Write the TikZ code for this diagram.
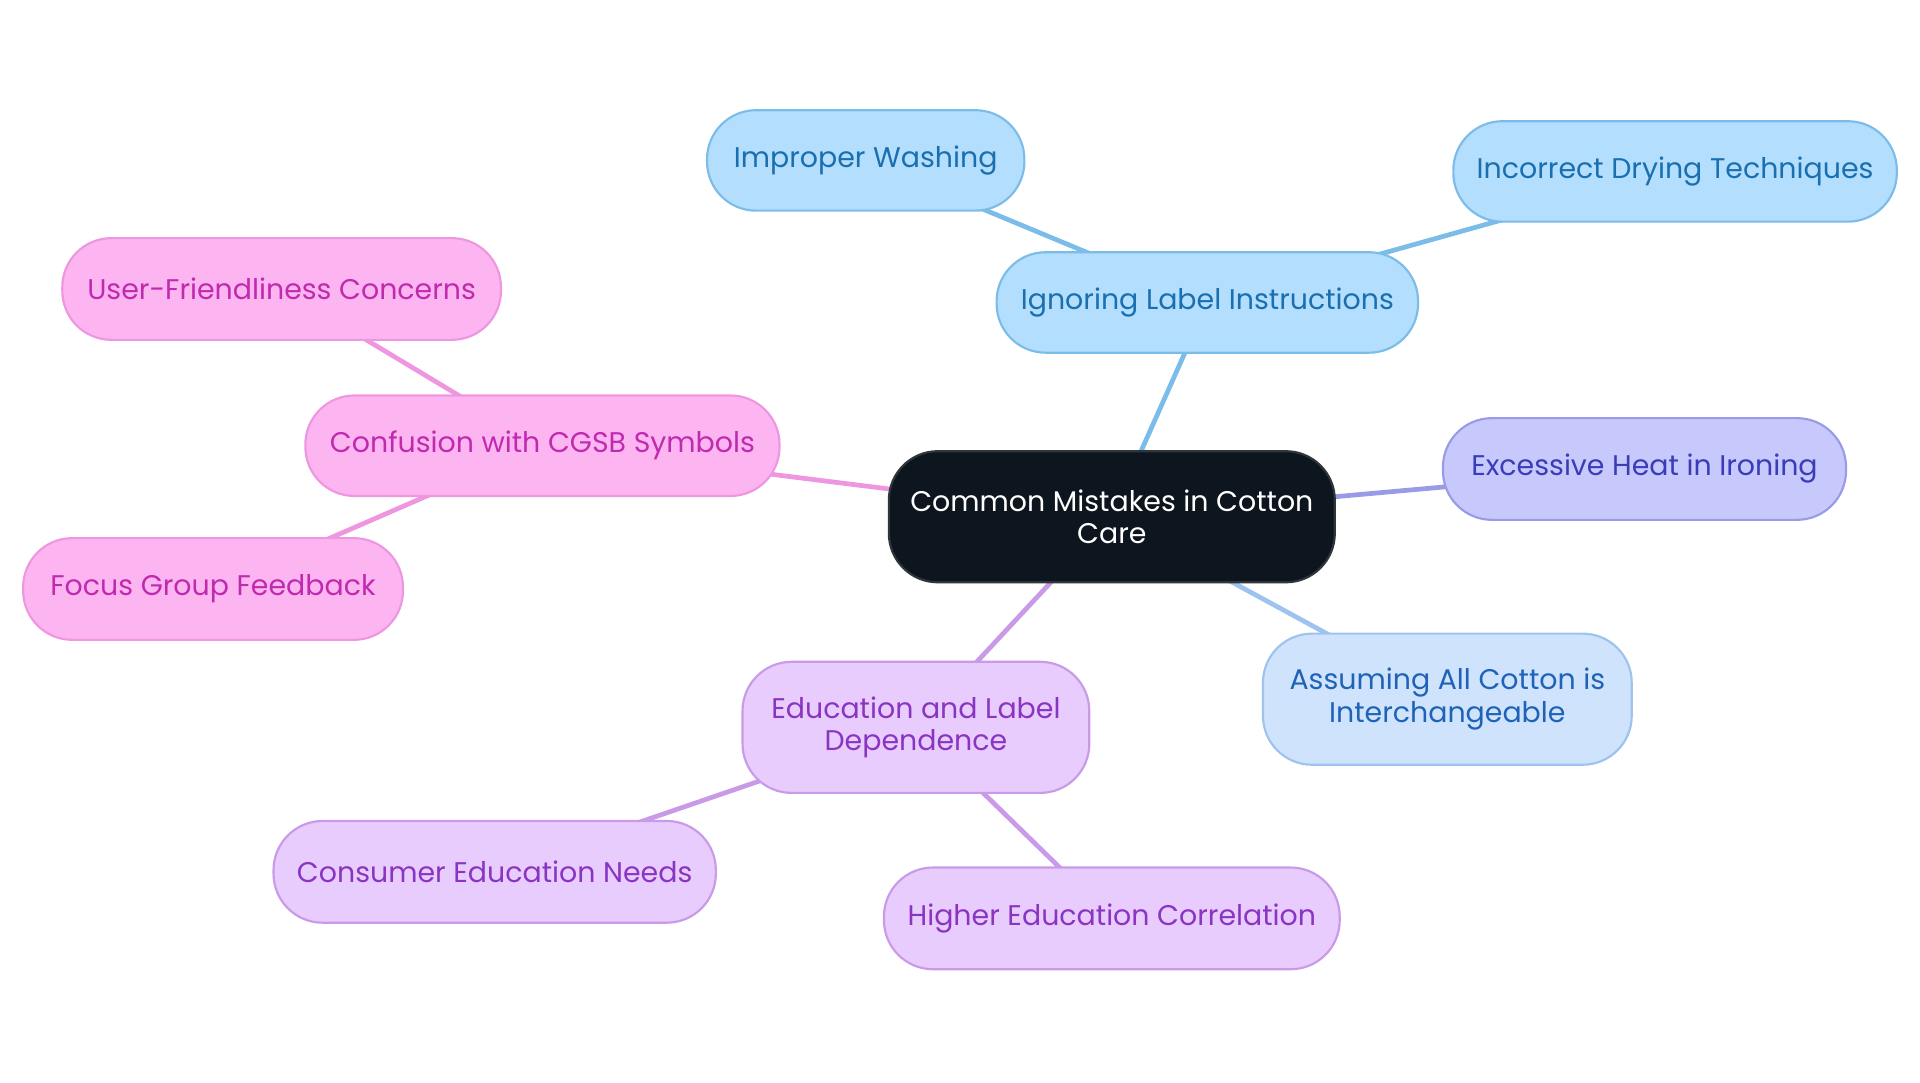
\documentclass[tikz,border=0pt]{standalone}
\usepackage{fontspec}
\setmainfont{Poppins}
\begin{document}
\begin{tikzpicture}[x=0.01cm,y=-0.01cm,
 box/.style={draw,line width=0.5pt,rounded corners=0.4cm,align=center,inner sep=0pt,font=\fontsize{6.6}{7.6}\selectfont},
 blue/.style={box,fill=b1f,draw=b1d,text=b1t},
 vio/.style={box,fill=v1f,draw=v1d,text=v1t},
 lb/.style={box,fill=l1f,draw=l1d,text=l1t},
 pur/.style={box,fill=p1f,draw=p1d,text=p1t},
 pin/.style={box,fill=k1f,draw=k1d,text=k1t},
 ln/.style={line width=1.1pt}]
\definecolor{b1f}{HTML}{B3DEFD}\definecolor{b1d}{HTML}{7BBDE8}\definecolor{b1t}{HTML}{1A6FB0}
\definecolor{v1f}{HTML}{C7C9FC}\definecolor{v1d}{HTML}{9A9BE6}\definecolor{v1t}{HTML}{3A3DB8}
\definecolor{l1f}{HTML}{CFE3FC}\definecolor{l1d}{HTML}{9EC3EE}\definecolor{l1t}{HTML}{1F63B8}
\definecolor{p1f}{HTML}{E8CCFD}\definecolor{p1d}{HTML}{C99AE8}\definecolor{p1t}{HTML}{8A34C2}
\definecolor{k1f}{HTML}{FDB5F2}\definecolor{k1d}{HTML}{EE96E0}\definecolor{k1t}{HTML}{C02AAE}
\definecolor{rootf}{HTML}{0D161E}
\useasboundingbox (0,0) rectangle (1568,884);
% edges
\draw[ln,b1d] (908,422)--(986,247) (986,247)--(707,131) (986,247)--(1368,140);
\draw[ln,v1d] (908,422)--(1343,383);
\draw[ln,l1d] (908,422)--(1182,571);
\draw[ln,p1d] (908,422)--(748,594) (748,594)--(404,712) (748,594)--(908,750);
\draw[ln,k1d] (908,422)--(443,364) (443,364)--(230,236) (443,364)--(174,481);
% nodes
\node[box,fill=rootf,draw=rootf!70!gray,text=white,minimum width=3.64cm,minimum height=1.07cm] (root) at (908,422) {Common Mistakes in Cotton\\Care};
\node[blue,minimum width=3.44cm,minimum height=0.82cm] (ign) at (986,247) {Ignoring Label Instructions};
\node[blue,minimum width=2.59cm,minimum height=0.82cm] (wash) at (707,131) {Improper Washing};
\node[blue,minimum width=3.62cm,minimum height=0.82cm] (dry) at (1368,140) {Incorrect Drying Techniques};
\node[vio,minimum width=3.29cm,minimum height=0.83cm] (heat) at (1343,383) {Excessive Heat in Ironing};
\node[lb,minimum width=3.01cm,minimum height=1.07cm] (assume) at (1182,571) {Assuming All Cotton is\\Interchangeable};
\node[pur,minimum width=2.83cm,minimum height=1.07cm] (edu) at (748,594) {Education and Label\\Dependence};
\node[pur,minimum width=3.61cm,minimum height=0.83cm] (cons) at (404,712) {Consumer Education Needs};
\node[pur,minimum width=3.72cm,minimum height=0.83cm] (high) at (908,750) {Higher Education Correlation};
\node[pin,minimum width=3.87cm,minimum height=0.82cm] (conf) at (443,364) {Confusion with CGSB Symbols};
\node[pin,minimum width=3.58cm,minimum height=0.83cm] (user) at (230,236) {User-Friendliness Concerns};
\node[pin,minimum width=3.10cm,minimum height=0.83cm] (focus) at (174,481) {Focus Group Feedback};
\end{tikzpicture}
\end{document}
